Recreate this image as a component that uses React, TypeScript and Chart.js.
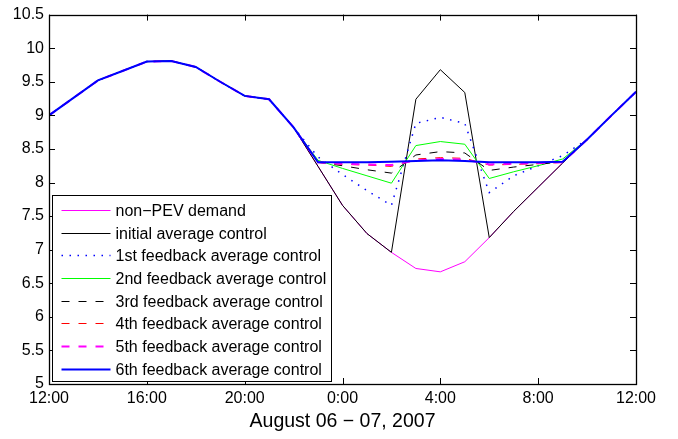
import { useEffect, useRef } from "react";
import { Chart, registerables } from "chart.js";

Chart.register(...registerables);

const hours = [0, 1, 2, 3, 4, 5, 6, 7, 8, 9, 10, 11, 12, 13, 14, 15, 16, 17, 18, 19, 20, 21, 22, 23, 24];
const xTickLabels = ["12:00", "16:00", "20:00", "0:00", "4:00", "8:00", "12:00"];
const xTitle = "August 06 \u2212 07, 2007";

const nonPEV = [9.0, 9.26, 9.52, 9.66, 9.8, 9.81, 9.72, 9.5, 9.29, 9.24, 8.82, 8.24, 7.66, 7.24, 6.96, 6.72, 6.67, 6.82, 7.18, 7.57, 7.93, 8.29, 8.64, 9.0, 9.35];
const initialCtrl = [9.0, 9.26, 9.52, 9.66, 9.8, 9.81, 9.72, 9.5, 9.29, 9.24, 8.82, 8.24, 7.66, 7.24, 6.96, 9.24, 9.68, 9.34, 7.18, 7.57, 7.93, 8.29, 8.64, 9.0, 9.35];
const fb1 = [9.0, 9.26, 9.52, 9.66, 9.8, 9.81, 9.72, 9.5, 9.29, 9.24, 8.82, 8.38, 8.12, 7.88, 7.66, 8.88, 8.97, 8.88, 7.85, 8.1, 8.25, 8.4, 8.64, 9.0, 9.35];
const fb2 = [9.0, 9.26, 9.52, 9.66, 9.8, 9.81, 9.72, 9.5, 9.29, 9.24, 8.82, 8.33, 8.21, 8.1, 7.99, 8.55, 8.61, 8.57, 8.06, 8.16, 8.25, 8.35, 8.64, 9.0, 9.35];
const fb3 = [9.0, 9.26, 9.52, 9.66, 9.8, 9.81, 9.72, 9.5, 9.29, 9.24, 8.82, 8.3, 8.25, 8.19, 8.14, 8.41, 8.46, 8.44, 8.18, 8.23, 8.27, 8.31, 8.64, 9.0, 9.35];
const fb4 = [9.0, 9.26, 9.52, 9.66, 9.8, 9.81, 9.72, 9.5, 9.29, 9.24, 8.82, 8.3, 8.27, 8.26, 8.24, 8.35, 8.37, 8.36, 8.26, 8.27, 8.28, 8.3, 8.64, 9.0, 9.35];
const fb5 = [9.0, 9.26, 9.52, 9.66, 9.8, 9.81, 9.72, 9.5, 9.29, 9.24, 8.82, 8.3, 8.28, 8.27, 8.26, 8.33, 8.35, 8.34, 8.27, 8.28, 8.29, 8.3, 8.64, 9.0, 9.35];
const fb6 = [9.0, 9.26, 9.52, 9.66, 9.8, 9.81, 9.72, 9.5, 9.29, 9.24, 8.82, 8.3, 8.3, 8.3, 8.31, 8.32, 8.33, 8.32, 8.3, 8.3, 8.3, 8.31, 8.64, 9.0, 9.35];

const seriesLabels = [
  "non\u2212PEV demand",
  "initial average control",
  "1st feedback average control",
  "2nd feedback average control",
  "3rd feedback average control",
  "4th feedback average control",
  "5th feedback average control",
  "6th feedback average control",
];

const FONT = "'Liberation Sans', Arial, Helvetica, sans-serif";

const frameAndLegend = {
  id: "frameAndLegend",
  afterDatasetsDraw(chart: any) {
    const ctx = chart.ctx;
    const a = chart.chartArea;
    const xs = chart.scales.x;
    const ys = chart.scales.y;
    ctx.save();
    ctx.strokeStyle = "#000";
    ctx.lineWidth = 1;
    ctx.setLineDash([]);
    ctx.beginPath();
    for (const t of xs.ticks) {
      const px = Math.round(xs.getPixelForValue(t.value)) + 0.5;
      ctx.moveTo(px, a.bottom);
      ctx.lineTo(px, a.bottom - 6);
      ctx.moveTo(px, a.top);
      ctx.lineTo(px, a.top + 6);
    }
    for (const t of ys.ticks) {
      const py = Math.round(ys.getPixelForValue(t.value)) + 0.5;
      ctx.moveTo(a.left, py);
      ctx.lineTo(a.left + 6, py);
      ctx.moveTo(a.right, py);
      ctx.lineTo(a.right - 6, py);
    }
    ctx.stroke();
    ctx.lineWidth = 1.3;
    ctx.strokeRect(Math.round(a.left) + 0.5, Math.round(a.top) + 0.5, Math.round(a.right - a.left), Math.round(a.bottom - a.top));
    ctx.restore();
  },
  afterDraw(chart: any) {
    const ctx = chart.ctx;
    const a = chart.chartArea;
    const left = Math.round(a.left) + 3.5;
    const w = 279;
    const h = 186;
    const top = Math.round(a.bottom) - 2.5 - h;
    ctx.save();
    ctx.fillStyle = "#fff";
    ctx.fillRect(left, top, w, h);
    ctx.strokeStyle = "#000";
    ctx.lineWidth = 1;
    ctx.setLineDash([]);
    ctx.strokeRect(left, top, w, h);
    ctx.font = "16px " + FONT;
    ctx.textBaseline = "middle";
    ctx.textAlign = "left";
    chart.data.datasets.forEach((ds: any, i: number) => {
      const cy = Math.round(top + 14.3 + i * 22.71) + 0.5;
      ctx.beginPath();
      ctx.strokeStyle = ds.borderColor;
      ctx.lineWidth = ds.borderWidth;
      ctx.setLineDash(ds.borderDash || []);
      ctx.moveTo(left + 9, cy);
      ctx.lineTo(left + 58, cy);
      ctx.stroke();
      ctx.setLineDash([]);
      ctx.fillStyle = "#000";
      ctx.fillText(ds.label, left + 63, cy + 1);
    });
    ctx.restore();
  },
};

export default function App() {
  const ref = useRef<HTMLCanvasElement>(null);
  useEffect(() => {
    if (!ref.current) return;
    const mk = (i: number, data: number[], color: string, width: number, dash: number[], order: number) => ({
      label: seriesLabels[i],
      data: hours.map((h, k) => ({ x: h, y: data[k] })),
      borderColor: color,
      backgroundColor: color,
      borderWidth: width,
      borderDash: dash,
      pointRadius: 0,
      tension: 0,
      fill: false,
      order,
    });
    const chart = new Chart(ref.current, {
      type: "line",
      data: {
        datasets: [
          mk(0, nonPEV, "#ff00ff", 1, [], 8),
          mk(1, initialCtrl, "#000000", 1, [], 7),
          mk(2, fb1, "#0000ff", 1.5, [1.5, 6.5], 6),
          mk(3, fb2, "#00ff00", 1, [], 5),
          mk(4, fb3, "#000000", 1, [8, 9], 4),
          mk(5, fb4, "#ff0000", 1, [8, 9], 3),
          mk(6, fb5, "#ff00ff", 2, [8, 9], 2),
          mk(7, fb6, "#0000ff", 2, [], 1),
        ],
      },
      options: {
        animation: false,
        responsive: false,
        devicePixelRatio: 1,
        layout: { padding: { top: 10, right: 42, left: 0, bottom: 0 } },
        plugins: { legend: { display: false }, tooltip: { enabled: false } },
        scales: {
          x: {
            type: "linear",
            min: 0,
            max: 24,
            grid: { display: false, drawTicks: false, tickLength: 0 },
            border: { display: false },
            ticks: {
              stepSize: 4,
              autoSkip: false,
              maxRotation: 0,
              padding: 5,
              color: "#000",
              font: { size: 16, family: FONT },
              callback: (v: any) => xTickLabels[Math.round(Number(v) / 4)] ?? "",
            },
            title: {
              display: true,
              text: xTitle,
              color: "#000",
              font: { size: 19.5, family: FONT },
              padding: { top: 0, bottom: 6 },
            },
            afterFit: (s: any) => {
              s.height = 55;
            },
          },
          y: {
            min: 5,
            max: 10.5,
            grid: { display: false, drawTicks: false, tickLength: 0 },
            border: { display: false },
            ticks: {
              stepSize: 0.5,
              padding: 5,
              color: "#000",
              font: { size: 16, family: FONT },
              callback: (v: any) => String(Math.round(Number(v) * 10) / 10),
            },
            afterFit: (s: any) => {
              s.width = 49;
            },
          },
        },
      },
      plugins: [frameAndLegend],
    } as any);
    return () => chart.destroy();
  }, []);
  return (
    <div style={{ position: "fixed", left: 0, top: 0, width: 678, height: 439, background: "#fff" }}>
      <canvas ref={ref} width={678} height={439} style={{ width: 678, height: 439 }} />
    </div>
  );
}
